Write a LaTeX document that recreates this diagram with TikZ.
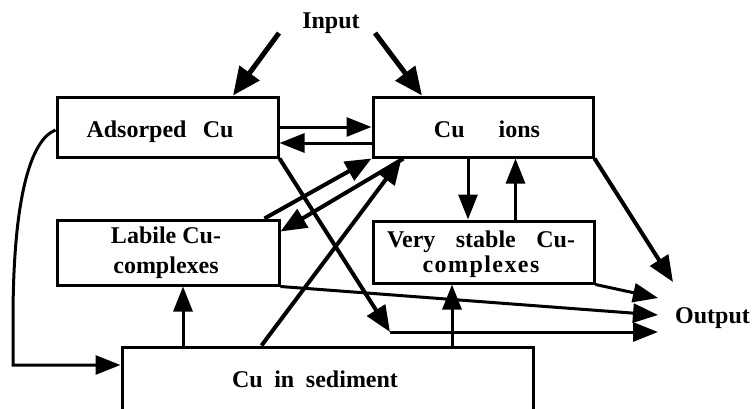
\documentclass[tikz,border=0pt]{standalone}
\usepackage{fontspec}
\setmainfont{Liberation Serif}
\newfontfamily\widefont[LetterSpace=6]{Liberation Serif}
\usetikzlibrary{arrows.meta}
\begin{document}
\begin{tikzpicture}[x=1pt,y=-1pt,
  box/.style={draw, rectangle, line width=3pt, inner sep=0pt, line join=miter},
  lbl/.style={font=\fontsize{24}{26}\selectfont\bfseries, inner sep=0pt, align=center},
  flow/.style={line width=3pt, -{Triangle[length=25pt,width=19pt]}},
  diag/.style={line width=4pt, -{Triangle[length=26pt,width=21pt]}},
  inflow/.style={line width=5pt, -{Triangle[length=28pt,width=24pt]}},
]
\useasboundingbox (0,0) rectangle (756,408);
\begin{scope}
\clip (0,0) rectangle (756,408);

% compartments
\node[box, minimum width=221pt, minimum height=60pt] (ads) at (167.5,127) {};
\node[box, minimum width=220pt, minimum height=60pt] (ions) at (483,127) {};
\node[box, minimum width=222pt, minimum height=65pt] (lab) at (168,252.5) {};
\node[box, minimum width=221pt, minimum height=62pt] (vst) at (483.5,252) {};
\node[box, minimum width=411pt, minimum height=90pt] (sed) at (327.5,392) {};

% labels
\node[lbl, anchor=base] (inputT) at (331,28) {Input};
\node[lbl, anchor=base] (adsT) at (160,137) {\makebox[147pt][s]{Adsorped Cu}};
\node[lbl, anchor=base] (ionsT) at (487,137) {Cu\hspace{34pt}ions};
\node[lbl, font=\fontsize{24}{30}\selectfont\bfseries] (labT) at (166,252.5) {Labile Cu-\\complexes};
\node[lbl, font=\fontsize{24}{25}\selectfont\bfseries] (vstT) at (481,254) {\makebox[188pt][s]{Very stable Cu-}\\{\widefont\bfseries complexes}};
\node[lbl, anchor=base] (sedT) at (315,387) {\makebox[166pt][s]{Cu in sediment}};
\node[lbl, anchor=base west] (outT) at (675,323) {Output};

% free ends
\coordinate (inL) at (279,33);
\coordinate (inR) at (375,33);
\coordinate (outTop) at (673,282);
\coordinate (outA) at (658,298);
\coordinate (outB) at (658,315);
\coordinate (outC) at (658,332);
\coordinate (kink) at (390,332);
\coordinate (leftDown) at (13,365);

% inputs
\draw[inflow] (inL) -- ([xshift=65.5pt]ads.north);
\draw[inflow] (inR) -- ([xshift=-61pt]ions.north);

% exchange adsorbed <-> dissolved
\draw[flow] (ads.east) -- (ions.west);
\draw[flow] ([yshift=-16pt]ions.west) -- ([yshift=-16pt]ads.east);

% dissolved <-> very stable complexes
\draw[flow] ([xshift=-15pt]ions.south) -- ([xshift=-15pt]ions.south |- vst.north);
\draw[flow] ([xshift=32pt]vst.north) -- ([xshift=32pt]vst.north |- ions.south);

% dissolved <-> labile complexes
\draw[diag] ([xshift=-16pt]lab.north east) -- (ions.south west);
\draw[diag] ([xshift=32pt]ions.south west) -- ([yshift=-13pt]lab.north east);

% sediment release
\draw[diag] ([xshift=141pt]sed.north west) -- ([xshift=30pt]ions.south west);
\draw[flow] ([xshift=15pt]lab.south |- sed.north) -- ([xshift=15pt]lab.south);
\draw[flow] ([xshift=-31.5pt]vst.south |- sed.north) -- ([xshift=-31.5pt]vst.south);

% adsorbed -> sediment
\draw[flow] ([yshift=-3pt]ads.west) .. controls (30,140) and (13,200) .. (13,320)
  -- (leftDown) -- (leftDown -| sed.west);

% outputs
\draw[diag] (ions.south east) -- (outTop);
\draw[flow] (vst.south east) -- (outA);
\draw[flow] (lab.south east) -- (outB);
\draw[diag] (ads.south east) -- (kink);
\draw[flow] (kink) -- (outC);
\end{scope}
\end{tikzpicture}
\end{document}
